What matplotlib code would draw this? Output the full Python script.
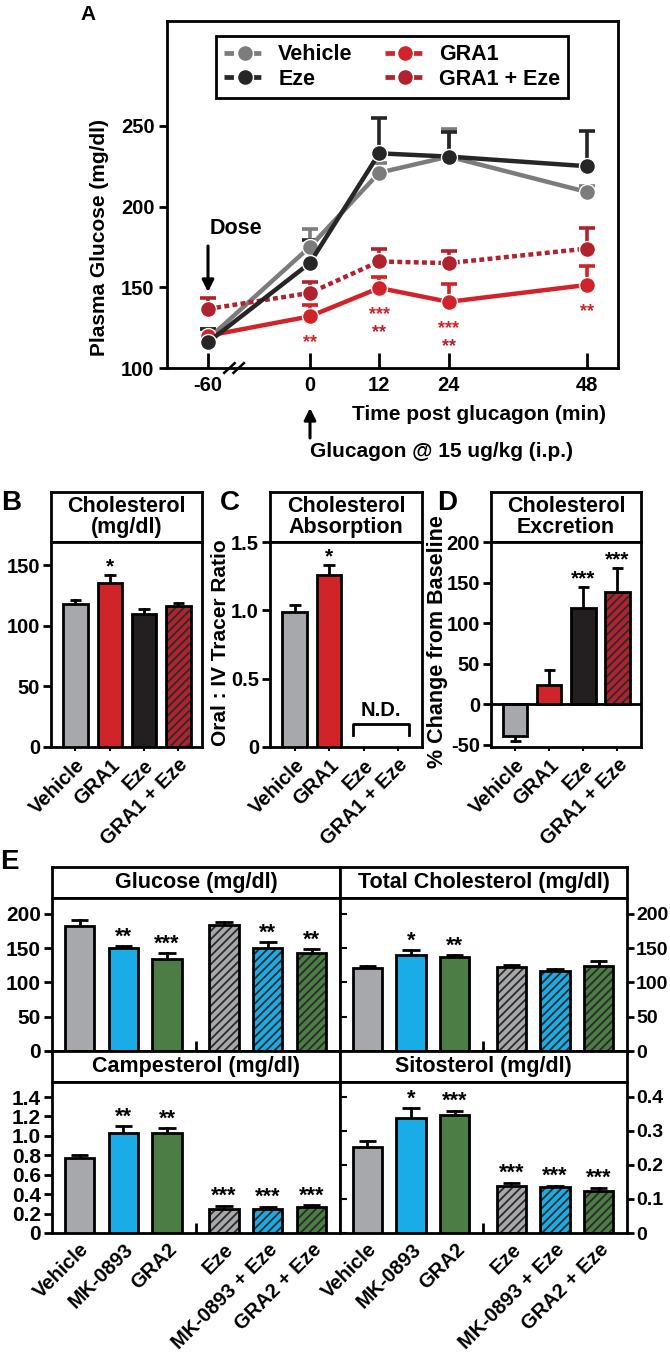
import matplotlib
matplotlib.use("Agg")
import matplotlib.pyplot as plt
import numpy as np
from matplotlib.lines import Line2D

plt.rcParams['font.family'] = ['Liberation Sans', 'DejaVu Sans']
plt.rcParams['font.weight'] = 'bold'
plt.rcParams['axes.labelweight'] = 'bold'
plt.rcParams['hatch.linewidth'] = 1.3
plt.rcParams['axes.linewidth'] = 2

# ---------------- data ----------------
# Panel A
time_labels = [-60, 0, 12, 24, 48]
vehicle_mean = [118, 175, 221, 231, 209]
vehicle_err = [6, 11, 6, 17, 4]
eze_mean = [116, 165, 233, 231, 225]
eze_err = [8, 14, 22, 15, 22]
gra1_mean = [120, 132, 149.6, 141, 151.5]
gra1_err = [4, 7, 6.5, 11, 11.5]
gra1eze_mean = [136.6, 146.5, 166, 165, 174]
gra1eze_err = [6.5, 6.5, 8, 7.5, 13]
a_stars_gra1 = ['', '**', '***', '***', '**']
a_stars_gra1eze = ['', '', '**', '**', '']

# Panels B-D
bcd_groups = ['Vehicle', 'GRA1', 'Eze', 'GRA1 + Eze']
chol_mean = [118, 135, 110, 116.5]
chol_err = [3, 7, 4, 2]
chol_stars = ['', '*', '', '']
absorp_mean = [0.985, 1.26, 0, 0]
absorp_err = [0.055, 0.075, 0, 0]
absorp_stars = ['', '*', '', '']
excr_mean = [-39, 23.5, 118.6, 138]
excr_err = [-6, 19, 26, 30]
excr_stars = ['', '', '***', '***']

# Panel E
e_groups = ['Vehicle', 'MK-0893', 'GRA2', 'Eze', 'MK-0893 + Eze', 'GRA2 + Eze']
glucose_mean = [182, 150, 134, 184, 150, 143]
glucose_err = [9, 3, 9, 4, 9, 5]
glucose_stars = ['', '**', '***', '', '**', '**']
totchol_mean = [120.6, 140, 137, 123, 117, 124]
totchol_err = [3, 7, 3, 3, 2.5, 7]
totchol_stars = ['', '*', '**', '', '', '']
camp_mean = [0.77, 1.03, 1.03, 0.25, 0.25, 0.265]
camp_err = [0.03, 0.07, 0.05, 0.03, 0.02, 0.025]
camp_stars = ['', '**', '**', '***', '***', '***']
sito_mean = [0.254, 0.339, 0.347, 0.139, 0.135, 0.123]
sito_err = [0.016, 0.028, 0.013, 0.009, 0.004, 0.01]
sito_stars = ['', '*', '***', '***', '***', '***']

# ---------------- style ----------------
C_GRAY = '#a7a8ab'
C_RED = '#d1232a'
C_BLACK = '#231f20'
C_DRED = '#b0222e'
C_BLUE = '#1aace6'
C_GREEN = '#4b7d45'
C_HATCH = '#2a2a2a'
L_VEH = '#7c7c7c'
L_EZE = '#262626'

W, H = 670, 1356
fig = plt.figure(figsize=(W / 100, H / 100), dpi=100)


def px_axes(l, t, r, b):
    return fig.add_axes([l / W, 1 - b / H, (r - l) / W, (b - t) / H])


def ftext(x, y, s, **kw):
    return fig.text(x / W, 1 - y / H, s, **kw)


def farrow(x0, y0, x1, y1):
    fig.add_artist(matplotlib.patches.FancyArrowPatch(
        (x0 / W, 1 - y0 / H), (x1 / W, 1 - y1 / H), transform=fig.transFigure,
        arrowstyle='-|>,head_length=7,head_width=3.5', lw=2.2, color='k',
        shrinkA=0, shrinkB=0))


def title_box(l, t, r, b, text, fs=15):
    ax = px_axes(l, t, r, b)
    ax.set_xticks([])
    ax.set_yticks([])
    for s in ax.spines.values():
        s.set_linewidth(2)
    ax.text(0.5, 0.5, text, ha='center', va='center', fontsize=fs,
            fontweight='bold', linespacing=1.0, transform=ax.transAxes)
    return ax


# ---------------- Panel A ----------------
axA = px_axes(167, 21, 618, 368)
BREAK_POS = -17.6
xpos = [t if t >= 0 else BREAK_POS for t in time_labels]

series = [
    ('Vehicle', vehicle_mean, vehicle_err, L_VEH, '-'),
    ('GRA1 + Eze', gra1eze_mean, gra1eze_err, C_DRED, (0, (1.1, 0.75))),
    ('GRA1', gra1_mean, gra1_err, C_RED, '-'),
    ('Eze', eze_mean, eze_err, L_EZE, '-'),
]
for i, (name, m, e, c, ls) in enumerate(series):
    axA.errorbar(xpos, m, yerr=[np.zeros(len(e)), e], fmt='none', ecolor=c,
                 elinewidth=2.6, capsize=5.5, capthick=2.6, zorder=2 + i)
    axA.plot(xpos, m, color=c, lw=3.2, linestyle=ls, marker='o', ms=11.5,
             mec='white', mew=1.0, mfc=c, zorder=6 + i, solid_capstyle='butt')

for x, m, s in zip(xpos, gra1_mean, a_stars_gra1):
    if s:
        axA.annotate(s, (x, m), xytext=(0, -19), textcoords='offset points',
                     ha='center', va='center', color=C_RED, fontsize=13)
for x, m, s in zip(xpos, gra1_mean, a_stars_gra1eze):
    if s:
        axA.annotate(s, (x, m), xytext=(0, -32), textcoords='offset points',
                     ha='center', va='center', color=C_DRED, fontsize=13)

axA.set_xlim(-24.7, 53.3)
axA.set_ylim(100, 315)
axA.set_xticks(xpos)
axA.set_xticklabels([str(t) for t in time_labels])
axA.set_yticks([100, 150, 200, 250])
axA.tick_params(axis='x', direction='in', length=11, width=2, labelsize=14.5, pad=6)
axA.tick_params(axis='y', direction='out', length=6, width=2, labelsize=14.5, pad=3)
for lab in axA.get_xticklabels() + axA.get_yticklabels():
    lab.set_fontweight('bold')
# axis break marks
for dx in (-1.4, 0.2):
    axA.plot([-13.4 + dx, -11.6 + dx], [97.0, 103.0], color='k', lw=1.8,
             clip_on=False, zorder=20)

hkw = dict(lw=3.4, ls=(0, (2.0, 0.9)), marker='o', ms=11.5, mec='white', mew=1)
handles = [
    Line2D([], [], color=L_VEH, **hkw),
    Line2D([], [], color=L_EZE, **hkw),
    Line2D([], [], color=C_RED, **hkw),
    Line2D([], [], color=C_DRED, **hkw),
]
leg = axA.legend(handles, ['Vehicle', 'Eze', 'GRA1', 'GRA1 + Eze'], ncol=2,
                 loc='upper left', bbox_to_anchor=(0.109, 0.957), borderaxespad=0,
                 fancybox=False, edgecolor='k', framealpha=1,
                 prop={'size': 15.5, 'weight': 'bold'}, handlelength=1.9,
                 handletextpad=0.6, columnspacing=1.5, borderpad=0.38,
                 labelspacing=0.18)
leg.get_frame().set_linewidth(2)

ftext(88, 14, 'A', fontsize=15, fontweight='bold', ha='center', va='center')
ftext(236, 228, 'Dose', fontsize=15.5, fontweight='bold', ha='center', va='center')
farrow(208, 246, 208, 292)
ftext(100, 238, 'Plasma Glucose (mg/dl)', fontsize=15, fontweight='bold',
      rotation=90, ha='center', va='center')
ftext(479, 415, 'Time post glucagon (min)', fontsize=15, fontweight='bold',
      ha='center', va='center')
ftext(442, 452, 'Glucagon @ 15 ug/kg (i.p.)', fontsize=15, fontweight='bold',
      ha='center', va='center')
farrow(310, 438, 310, 408)

# ---------------- Panels B-D ----------------
bcd_colors = [C_GRAY, C_RED, C_BLACK, C_DRED]
bcd_hatch = [None, None, None, '////']


def draw_bars(ax, pos, means, errs, colors, hatches, width, capsize, stars,
              star_fs=15):
    for x, m, e, c, h, s in zip(pos, means, errs, colors, hatches, stars):
        if m == 0:
            continue
        if h:
            ax.bar(x, m, width, color=c, hatch=h, edgecolor=C_HATCH, lw=0, zorder=2)
            ax.bar(x, m, width, fill=False, edgecolor='k', lw=2, zorder=3)
        else:
            ax.bar(x, m, width, color=c, edgecolor='k', lw=2, zorder=3)
        top = m + e
        ax.plot([x, x], [m, top], color='k', lw=2, zorder=1.5)
        ax.plot([x - capsize, x + capsize], [top, top], color='k', lw=2,
                zorder=1.5, solid_capstyle='butt')
        if s:
            ax.annotate(s, (x, top), xytext=(0, -1), textcoords='offset points',
                        ha='center', va='bottom', fontsize=star_fs)


bcd_x = np.arange(len(bcd_groups))
panel_boxes = [(51, 202), (270, 422), (491, 641)]
titles = ['Cholesterol\n(mg/dl)', 'Cholesterol\nAbsorption', 'Cholesterol\nExcretion']
datas = [(chol_mean, chol_err, chol_stars), (absorp_mean, absorp_err, absorp_stars),
         (excr_mean, excr_err, excr_stars)]
ylims = [(0, 169), (0, 1.5), (-52.5, 198)]
yticks = [[0, 50, 100, 150], [0, 0.5, 1.0, 1.5], [-50, 0, 50, 100, 150, 200]]
yticklabels = [['0', '50', '100', '150'], ['0', '0.5', '1.0', '1.5'],
               ['-50', '0', '50', '100', '150', '200']]
for k, ((l, r), title, (m, e, st)) in enumerate(zip(panel_boxes, titles, datas)):
    title_box(l, 492, r, 542, title, fs=15.5)
    ax = px_axes(l, 542, r, 747)
    draw_bars(ax, bcd_x, m, e, bcd_colors, bcd_hatch, 0.71, 0.17, st)
    ax.set_xlim(-0.714, 3.69)
    ax.set_ylim(*ylims[k])
    ax.set_yticks(yticks[k])
    ax.set_yticklabels(yticklabels[k])
    ax.set_xticks(bcd_x)
    ax.set_xticklabels(bcd_groups, rotation=45, ha='right', va='top',
                       rotation_mode='anchor')
    ax.tick_params(axis='x', direction='out', length=3, width=1.5, labelsize=14.5, pad=3)
    ax.tick_params(axis='y', direction='out', length=6, width=2, labelsize=14.5, pad=2)
    for lab in ax.get_xticklabels() + ax.get_yticklabels():
        lab.set_fontweight('bold')
    if k == 1:
        xl, xr = bcd_x[2] - 0.3, bcd_x[3] + 0.3
        ax.plot([xl, xl, xr, xr], [0.09, 0.17, 0.17, 0.09], color='k', lw=2)
        ax.text((xl + xr) / 2, 0.2, 'N.D.', ha='center', va='bottom', fontsize=14.5)
    if k == 2:
        ax.axhline(0, color='k', lw=2, zorder=4)

ftext(220, 643, 'Oral : IV Tracer Ratio', fontsize=15, fontweight='bold',
      rotation=90, ha='center', va='center')
ftext(437, 642, '% Change from Baseline', fontsize=15.5, fontweight='bold',
      rotation=90, ha='center', va='center')
ftext(11, 503, 'B', fontsize=20, fontweight='bold', ha='center', va='center')
ftext(230, 503, 'C', fontsize=20, fontweight='bold', ha='center', va='center')
ftext(447, 503, 'D', fontsize=20, fontweight='bold', ha='center', va='center')

# ---------------- Panel E ----------------
e_x = np.array([0, 1, 2, 3.3, 4.3, 5.3])
e_sep = (e_x[2] + e_x[3]) / 2
e_colors = [C_GRAY, C_BLUE, C_GREEN, C_GRAY, C_BLUE, C_GREEN]
e_hatch = [None, None, None, '////', '////', '////']
ftext(9, 862, 'E', fontsize=20, fontweight='bold', ha='center', va='center')

e_panels = [
    ((52, 340), 867, 898, 1051, 'Glucose (mg/dl)', glucose_mean, glucose_err, glucose_stars,
     (0, 223), [0, 50, 100, 150, 200], ['0', '50', '100', '150', '200'], 'left', False),
    ((340, 627), 867, 898, 1051, 'Total Cholesterol (mg/dl)', totchol_mean, totchol_err, totchol_stars,
     (0, 223), [0, 50, 100, 150, 200], ['0', '50', '100', '150', '200'], 'right', False),
    ((52, 340), 1051, 1082, 1233, 'Campesterol (mg/dl)', camp_mean, camp_err, camp_stars,
     (0, 1.555), [0, 0.2, 0.4, 0.6, 0.8, 1.0, 1.2, 1.4],
     ['0', '0.2', '0.4', '0.6', '0.8', '1.0', '1.2', '1.4'], 'left', True),
    ((340, 627), 1051, 1082, 1233, 'Sitosterol (mg/dl)', sito_mean, sito_err, sito_stars,
     (0, 0.444), [0, 0.1, 0.2, 0.3, 0.4], ['0', '0.1', '0.2', '0.3', '0.4'], 'right', True),
]
for (l, r), tt, tb, bb, title, m, e, st, yl, yt, ytl, side, show_x in e_panels:
    title_box(l, tt, r, tb, title, fs=15.5)
    ax = px_axes(l, tb, r, bb)
    draw_bars(ax, e_x, m, e, e_colors, e_hatch, 0.67, 0.2, st, star_fs=15.5)
    ax.set_xlim(-0.63, 5.95)
    ax.set_ylim(*yl)
    ax.set_yticks(yt)
    ax.set_yticklabels(ytl)
    if side == 'right':
        ax.yaxis.tick_right()
        ax.tick_params(axis='y', which='both', right=True, left=False)
        ax.tick_params(axis='y', direction='out', length=5, width=2, labelsize=14, pad=1.5)
        sec = ax.secondary_yaxis('left')
        sec.set_yticks(yt)
        sec.set_yticklabels([])
        sec.tick_params(direction='in', length=5, width=1.5)
        sec.spines['left'].set_visible(False)
    else:
        ax.tick_params(axis='y', direction='out', length=6, width=2, labelsize=15, pad=2)
    ax.set_xticks(e_x)
    ax.set_xticks([e_sep], minor=True)
    ax.tick_params(axis='x', which='minor', direction='in', length=7, width=2)
    ax.tick_params(axis='x', which='major', length=0, labelsize=14.5, pad=5)
    if show_x:
        ax.set_xticklabels(e_groups, rotation=45, ha='right', va='top',
                           rotation_mode='anchor')
    else:
        ax.set_xticklabels([])
    for lab in ax.get_xticklabels() + ax.get_yticklabels():
        lab.set_fontweight('bold')

fig.savefig('out.png', dpi=100)
